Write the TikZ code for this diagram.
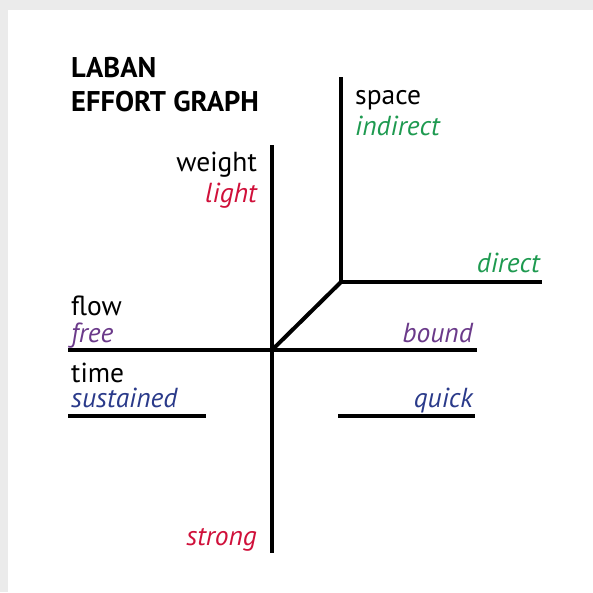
\documentclass[tikz,border=0pt]{standalone}
\usepackage{fontspec}
\setmainfont{PT Sans}
\definecolor{bggray}{HTML}{EBEBEB}
\definecolor{lgreen}{HTML}{1E9A50}
\definecolor{lred}{HTML}{D0103A}
\definecolor{lpurple}{HTML}{6B3A8A}
\definecolor{lblue}{HTML}{2A3A8A}
\begin{document}
\begin{tikzpicture}[x=1pt,y=-1pt,
  axis/.style={line width=4pt, black},
  lab/.style={inner sep=0pt, font=\fontsize{27.5}{32}\selectfont},
  ital/.style={lab, font=\fontsize{27.5}{32}\selectfont\itshape},
  title/.style={inner sep=0pt, anchor=base west, font=\fontsize{28.5}{34}\selectfont\bfseries}]
\useasboundingbox (0,0) rectangle (593,592);
\fill[bggray] (0,0) rectangle (593,592);
\fill[white] (8,10) rectangle (593,592);
% coordinates
\coordinate (wtop) at (272,145);
\coordinate (wbot) at (272,553);
\coordinate (ctr) at (272,350);
\coordinate (sorig) at (341,282);
\coordinate (stop) at (341,77);
\coordinate (dright) at (542,282);
\coordinate (fleft) at (68,350);
\coordinate (fright) at (477,350);
\coordinate (tl1) at (68,416);
\coordinate (tl2) at (206,416);
\coordinate (tr1) at (338,416);
\coordinate (tr2) at (475,416);
% axes
\draw[axis] (wtop) -- (wbot);
\draw[axis] (stop) -- (sorig) -- (dright);
\draw[axis] (ctr) -- (sorig);
\draw[axis] (fleft) -- (fright);
\draw[axis] (tl1) -- (tl2);
\draw[axis] (tr1) -- (tr2);
% title
\node[title] (t1) at (71,77) {LABAN};
\node[title] (t2) at (71,111) {EFFORT GRAPH};
% labels
\node[lab, anchor=base west] (space) at (355,104) {space};
\node[ital, anchor=base west, text=lgreen] (indirect) at (355,135) {indirect};
\node[ital, anchor=base east, text=lgreen] (direct) at (540,272) {direct};
\node[lab, anchor=base east] (weight) at (257,171) {weight};
\node[ital, anchor=base east, text=lred] (light) at (257,202) {light};
\node[lab, anchor=base west] (flow) at (71,315) {flow};
\node[ital, anchor=base west, text=lpurple] (free) at (71,342) {free};
\node[lab, anchor=base west] (time) at (71,382) {time};
\node[ital, anchor=base west, text=lblue] (sustained) at (71,407) {sustained};
\node[ital, anchor=base east, text=lpurple] (bound) at (473,342) {bound};
\node[ital, anchor=base east, text=lblue] (quick) at (473,407) {quick};
\node[ital, anchor=base east, text=lred] (strong) at (257,545) {strong};
\end{tikzpicture}
\end{document}
